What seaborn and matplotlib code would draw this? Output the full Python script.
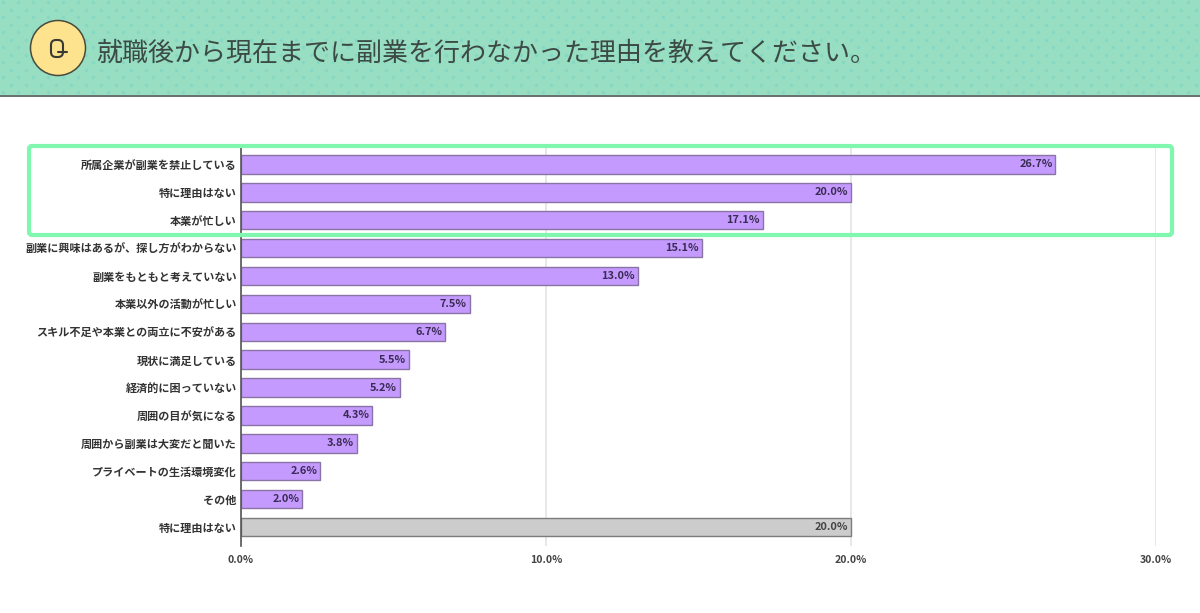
import pandas as pd
import seaborn as sns
import matplotlib.pyplot as plt
from matplotlib.patches import Circle, FancyBboxPatch, Rectangle

labels = ["所属企業が副業を禁止している", "特に理由はない", "本業が忙しい",
          "副業に興味はあるが、探し方がわからない", "副業をもともと考えていない",
          "本業以外の活動が忙しい", "スキル不足や本業との両立に不安がある",
          "現状に満足している", "経済的に困っていない", "周囲の目が気になる",
          "周囲から副業は大変だと聞いた", "プライベートの生活環境変化", "その他", "特に理由はない"]
values = [26.7, 20.0, 17.1, 15.1, 13.0, 7.5, 6.7, 5.5, 5.2, 4.3, 3.8, 2.6, 2.0, 20.0]
groups = ["main"] * 13 + ["none"]
x_ticks = [0, 10, 20, 30]
title = "就職後から現在までに副業を行わなかった理由を教えてください。"

sns.set_theme(style="white")
plt.rcParams["font.family"] = ["Noto Sans CJK JP", "DejaVu Sans"]

df = pd.DataFrame({"row": range(len(values)), "value": values, "group": groups})

fig = plt.figure(figsize=(12, 6.13), dpi=100, facecolor="white")

# chart area, placed in pixels of the 1200x613 picture
ax = fig.add_axes([241 / 1200, 1 - 546 / 613, (1156 - 241) / 1200, 400 / 613])
ax.patch.set_alpha(0)
sns.barplot(df, x="value", y="row", hue="group", orient="h", dodge=False, width=0.66, saturation=1,
            palette={"main": "#c49aff", "none": "#cccccc"}, linewidth=1.0,
            edgecolor="#8a74a6", legend=False, zorder=3, ax=ax)
# grey bar gets a grey outline
for bar in ax.patches:
    if bar.get_facecolor()[0] == bar.get_facecolor()[1]:
        bar.set_edgecolor("#7c7c7c")
ax.set_xlim(0, 30)
ax.set_ylim(13.68, -0.66)
ax.set_xlabel("")
ax.set_ylabel("")
ax.set_xticks(x_ticks, [f"{t:.1f}%" for t in x_ticks], fontsize=7.6, fontweight="bold", color="#444444")
ax.set_yticks(range(len(labels)), labels, fontsize=8, fontweight="bold", color="#333333")
ax.tick_params(axis="both", length=0)
ax.tick_params(axis="y", pad=3)
ax.tick_params(axis="x", pad=6.5)
ax.grid(axis="x", color="#e2e2e2", linewidth=1.1, zorder=0)
ax.set_axisbelow(True)
for side in ["top", "right", "bottom"]:
    ax.spines[side].set_visible(False)
ax.spines["left"].set_color("#555555")
ax.spines["left"].set_linewidth(1.2)
ax.spines["left"].set_zorder(5)

for i, (v, g) in enumerate(zip(values, groups)):
    ax.annotate(f"{v:.1f}%", xy=(v, i), xytext=(-2, 0), textcoords="offset points",
                ha="right", va="center", fontsize=7.9, fontweight="bold",
                color="#3a2b52" if g == "main" else "#444444", zorder=4)

# header band, Q badge and highlight box, in pixel coordinates
over = fig.add_axes([0, 0, 1, 1])
over.set_xlim(0, 1200)
over.set_ylim(613, 0)
over.axis("off")
over.patch.set_alpha(0)

over.add_patch(Rectangle((0, 0), 1200, 95, facecolor="#97dec2", edgecolor="none", zorder=1))
dots_a = [(x, y) for x in range(3, 1200, 15) for y in range(2, 95, 15)]
dots_b = [(x + 7.5, y + 7.5) for x, y in dots_a if y + 7.5 < 94]
dots = dots_a + dots_b
over.scatter([d[0] for d in dots], [d[1] for d in dots], s=6, color="#86d8c4", linewidths=0, zorder=2)
over.plot([0, 1200], [95.5, 95.5], color="#3c4a45", linewidth=1.1, zorder=3)

over.add_patch(Circle((58, 48), 27.5, facecolor="#fde38e", edgecolor="#4a4a3c", linewidth=1.1, zorder=3))
over.add_patch(FancyBboxPatch((51, 40), 12, 17, boxstyle="round,pad=0,rounding_size=5",
                              facecolor="none", edgecolor="#3a3a34", linewidth=1.5, zorder=4))
over.plot([58, 67], [52, 52], color="#3a3a34", linewidth=1.5, zorder=4)

over.text(96, 53, title, fontsize=18.7, color="#3c4a45", ha="left", va="center", zorder=4)

over.add_patch(FancyBboxPatch((29, 146), 1143, 89, boxstyle="round,pad=0,rounding_size=3",
                              facecolor="none", edgecolor="#7ff7ae", linewidth=3, zorder=6))

plt.savefig("out.png", dpi=100)
plt.close()
